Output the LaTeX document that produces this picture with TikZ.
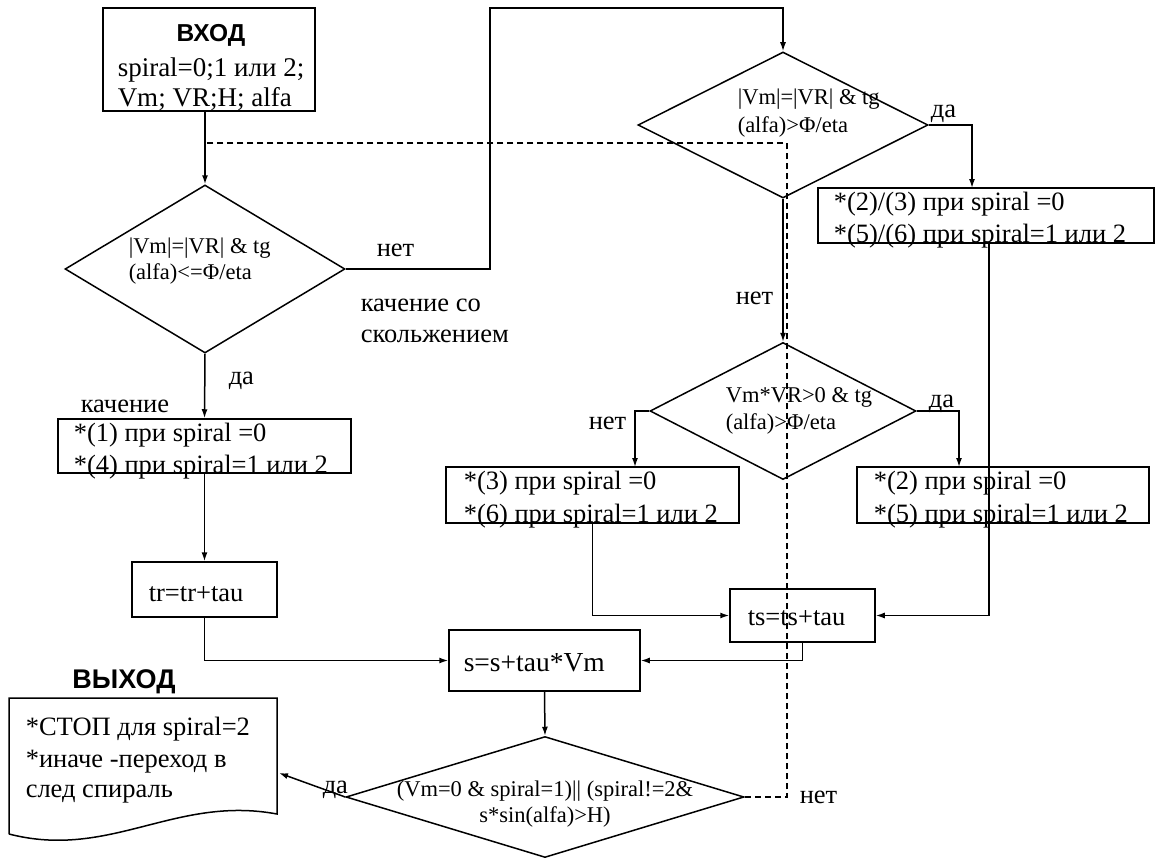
\documentclass[tikz,border=0pt]{standalone}
\usepackage{fontspec}
\setmainfont{Liberation Serif}
\newfontfamily\hdfont{Liberation Sans}
\usetikzlibrary{shapes.geometric,arrows.meta}
\begin{document}
\begin{tikzpicture}[x=1pt,y=-1pt,line width=1.5pt,
  box/.style={draw,rectangle,inner sep=0pt},
  dia/.style={draw,diamond,inner sep=0pt},
  txt/.style={inner sep=0pt,anchor=base west,font=\fontsize{26.5}{31}\selectfont},
  dtxt/.style={inner sep=0pt,anchor=base west,font=\fontsize{22.5}{26}\selectfont},
  head/.style={inner sep=0pt,anchor=base,font=\hdfont\bfseries\fontsize{27}{30}\selectfont},
  arr/.style={-{Latex[length=9pt,width=6pt]}},
  loopline/.style={dash pattern=on 6pt off 4pt}]
\useasboundingbox (0,0) rectangle (1156,859);

% input
\node[box,minimum width=212,minimum height=103] (in) at (209,59.5) {};
\node[head,font=\hdfont\bfseries\fontsize{24.5}{28}\selectfont] (inH) at (211,42) {ВХОД};
\node[txt,font=\fontsize{27}{31}\selectfont] (inA) at (117,76) {spiral=0;1 или 2;};
\node[txt,font=\fontsize{27}{31}\selectfont] (inB) at (117,106) {Vm; VR;H; alfa};

% diamonds
\node[dia,minimum width=280,minimum height=168] (d1) at (205,269) {};
\node[dtxt] (d1a) at (128,253) {|Vm|=|VR| \& tg};
\node[dtxt] (d1b) at (128,279) {(alfa)<=Φ/eta};

\node[dia,minimum width=290,minimum height=146] (d2) at (783,125) {};
\node[dtxt] (d2a) at (737,104) {|Vm|=|VR| \& tg};
\node[dtxt] (d2b) at (737,132) {(alfa)>Φ/eta};

\node[dia,minimum width=266,minimum height=137] (d3) at (783,411) {};
\node[dtxt] (d3a) at (725,402) {Vm*VR>0 \& tg};
\node[dtxt] (d3b) at (725,429) {(alfa)>Φ/eta};

\node[dia,minimum width=398,minimum height=121] (d4) at (545,797) {};
\node[dtxt,anchor=base] (d4a) at (545,796) {(Vm=0 \& spiral=1)|| (spiral!=2\&};
\node[dtxt,anchor=base] (d4b) at (545,822) {s*sin(alfa)>H)};

% boxes
\node[box,minimum width=336,minimum height=55] (a2) at (986,215.5) {};
\node[txt] (a2a) at (833,210) {*(2)/(3) при spiral =0};
\node[txt] (a2b) at (833,242) {*(5)/(6) при spiral=1 или 2};

\node[box,minimum width=293,minimum height=54] (b1) at (204.5,446) {};
\node[txt] (b1a) at (73,441) {*(1) при spiral =0};
\node[txt] (b1b) at (73,473) {*(4) при spiral=1 или 2};

\node[box,minimum width=293,minimum height=56] (bb) at (592.5,495) {};
\node[txt] (bba) at (463,489) {*(3) при spiral =0};
\node[txt] (bbb) at (463,522) {*(6) при spiral=1 или 2};

\node[box,minimum width=292,minimum height=56] (bc) at (1003,495) {};
\node[txt] (bca) at (873,489) {*(2) при spiral =0};
\node[txt] (bcb) at (873,522) {*(5) при spiral=1 или 2};

\node[box,minimum width=145,minimum height=55] (tr) at (204.5,589.5) {};
\node[txt] (trt) at (148,601) {tr=tr+tau};

\node[box,minimum width=145,minimum height=53] (ts) at (802.5,615.5) {};
\node[txt] (tst) at (747,625) {ts=ts+tau};

\node[box,minimum width=191,minimum height=61] (s) at (544.5,660.5) {};
\node[txt,font=\fontsize{27.5}{31}\selectfont] (st) at (463,671) {s=s+tau*Vm};

% output document
\draw (9,834) -- (9,698) -- (277,698) -- (277,814)
      .. controls (175,795) and (110,860) .. (9,834);
\coordinate (docR) at (279,773);
\node[head] (outH) at (124,688) {ВЫХОД};
\node[txt] (oa) at (25,735) {*СТОП для spiral=2};
\node[txt] (ob) at (25,767) {*иначе -переход в};
\node[txt] (oc) at (25,797) {след спираль};

% labels
\node[txt] (l1) at (376,256) {нет};
\node[txt] (l2) at (360,311) {качение со};
\node[txt] (l3) at (360,342) {скольжением};
\node[txt] (l4) at (228,384) {да};
\node[txt] (l5) at (80,412) {качение};
\node[txt] (l6) at (930,117) {да};
\node[txt] (l7) at (735,304) {нет};
\node[txt] (l8) at (588,429) {нет};
\node[txt] (l9) at (928,407) {да};
\node[txt] (l10) at (322,793) {да};
\node[txt] (l11) at (799,803) {нет};

% connectors
\coordinate (r1) at (490,8);
\coordinate (a2in) at (972,188);
\coordinate (a2out) at (989,243);
\coordinate (bin) at (635,467);
\coordinate (cin) at (959,467);
\coordinate (lpTop) at (787,143);

\draw[arr] (d1.north |- in.south) -- (d1.north);
\draw[loopline] (d4.east) -| (lpTop) -- (d1.north |- lpTop);
\draw[arr] (d1.east) -| (r1) -| (d2.north);
\draw[arr] (d2.east) -| (a2in);
\draw[arr] (a2out) |- (ts.east);
\draw[arr] (d2.south) -- (d3.north);
\draw[arr] (d3.west) -| (bin);
\draw[arr] (d3.east) -| (cin);
\draw[arr] (bb.south) |- (ts.west);
\draw[arr] (ts.south) |- (s.east);
\draw[arr] (d1.south) -- (b1.north);
\draw[arr] (b1.south) -- (tr.north);
\draw[arr] (tr.south) |- (s.west);
\draw[arr] (s.south) -- (d4.north);
\draw[arr] (d4.west) -- (docR);
\end{tikzpicture}
\end{document}
